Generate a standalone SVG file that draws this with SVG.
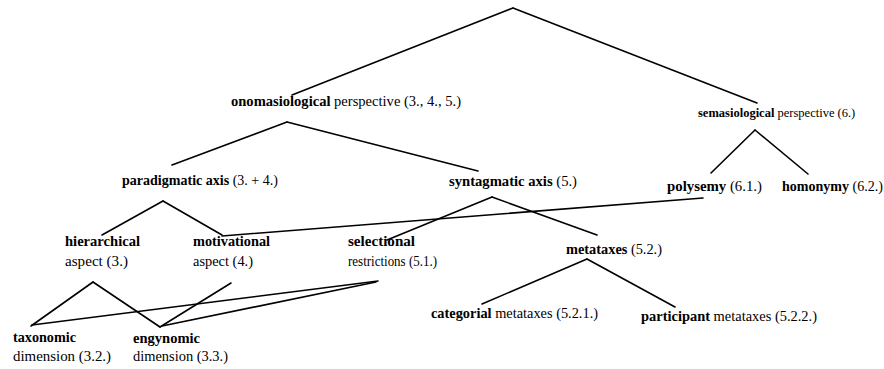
<svg xmlns="http://www.w3.org/2000/svg" width="884" height="369" viewBox="0 0 884 369">
<style>
text{font-family:"Liberation Serif","Times New Roman",Times,Tinos,"DejaVu Serif",serif;font-size:14px;fill:#000}
.b{font-weight:bold}
#connectors line{stroke:#000;stroke-width:1.6;stroke-linecap:round}
</style>
<rect width="884" height="369" fill="#fff"/>
<g id="connectors">
<line x1="513" y1="8" x2="292" y2="95"/>
<line x1="513" y1="8" x2="757" y2="103"/>
<line x1="287" y1="122" x2="172" y2="165"/>
<line x1="287" y1="122" x2="478" y2="171"/>
<line x1="755" y1="130" x2="711" y2="173"/>
<line x1="755" y1="130" x2="808" y2="174"/>
<line x1="163" y1="201" x2="102" y2="235"/>
<line x1="163" y1="201" x2="222" y2="235"/>
<line x1="492" y1="197" x2="387" y2="240"/>
<line x1="492" y1="197" x2="597" y2="235"/>
<line x1="222" y1="236" x2="703" y2="198"/>
<line x1="587" y1="259" x2="482" y2="304"/>
<line x1="587" y1="259" x2="675" y2="307"/>
<line x1="93" y1="282" x2="31" y2="326"/>
<line x1="93" y1="282" x2="160" y2="327"/>
<line x1="231" y1="283" x2="160" y2="327"/>
<line x1="378" y1="281" x2="32" y2="325"/>
<line x1="376" y1="282" x2="162" y2="326"/>
</g>
<g id="onomasiological"><text x="231" y="106" textLength="230" lengthAdjust="spacingAndGlyphs"><tspan class="b">onomasiological</tspan> perspective (3., 4., 5.)</text></g>
<g id="semasiological"><text x="698" y="117" style="font-size:12.5px"><tspan class="b">semasiological</tspan> perspective (6.)</text></g>
<g id="paradigmatic"><text x="122" y="185" textLength="156" lengthAdjust="spacingAndGlyphs"><tspan class="b">paradigmatic axis</tspan> (3. + 4.)</text></g>
<g id="syntagmatic"><text x="449" y="186" textLength="128" lengthAdjust="spacingAndGlyphs"><tspan class="b">syntagmatic axis</tspan> (5.)</text></g>
<g id="polysemy"><text x="667" y="191" textLength="95" lengthAdjust="spacingAndGlyphs"><tspan class="b">polysemy</tspan> (6.1.)</text></g>
<g id="homonymy"><text x="782" y="191" textLength="101" lengthAdjust="spacingAndGlyphs"><tspan class="b">homonymy</tspan> (6.2.)</text></g>
<g id="hierarchical"><text x="65" y="246" class="b" textLength="75" lengthAdjust="spacingAndGlyphs">hierarchical</text><text x="65" y="266" textLength="63" lengthAdjust="spacingAndGlyphs">aspect (3.)</text></g>
<g id="motivational"><text x="193" y="246" class="b" textLength="77" lengthAdjust="spacingAndGlyphs">motivational</text><text x="193" y="266" textLength="60" lengthAdjust="spacingAndGlyphs">aspect (4.)</text></g>
<g id="selectional"><text x="348" y="246" class="b" textLength="67" lengthAdjust="spacingAndGlyphs">selectional</text><text x="348" y="266" textLength="89" lengthAdjust="spacingAndGlyphs">restrictions (5.1.)</text></g>
<g id="metataxes"><text x="566" y="254" textLength="96" lengthAdjust="spacingAndGlyphs"><tspan class="b">metataxes</tspan> (5.2.)</text></g>
<g id="categorial"><text x="431" y="318" textLength="167" lengthAdjust="spacingAndGlyphs"><tspan class="b">categorial</tspan> metataxes (5.2.1.)</text></g>
<g id="participant"><text x="641" y="321" textLength="176" lengthAdjust="spacingAndGlyphs"><tspan class="b">participant</tspan> metataxes (5.2.2.)</text></g>
<g id="taxonomic"><text x="13" y="342" class="b" textLength="63" lengthAdjust="spacingAndGlyphs">taxonomic</text><text x="13" y="361" textLength="98" lengthAdjust="spacingAndGlyphs">dimension (3.2.)</text></g>
<g id="engynomic"><text x="133" y="343" class="b" textLength="67" lengthAdjust="spacingAndGlyphs">engynomic</text><text x="133" y="361" textLength="95" lengthAdjust="spacingAndGlyphs">dimension (3.3.)</text></g>
</svg>
